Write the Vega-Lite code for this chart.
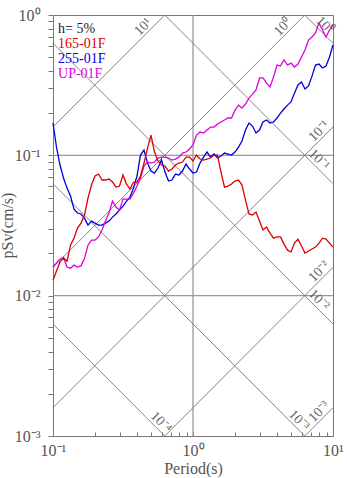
{
  "$schema": "https://vega.github.io/schema/vega-lite/v6.json",
  "width": 280,
  "height": 421,
  "autosize": "none",
  "padding": {"left": 53, "top": 15, "right": 14, "bottom": 42},
  "background": "white",
  "config": {
    "font": "Liberation Serif",
    "view": {"stroke": "#777", "strokeWidth": 1}
  },
  "title": {"text": "2025/08/18 08:34 at SMZ", "anchor": "start", "frame": "group", "fontSize": 16, "fontWeight": "normal", "color": "#222", "offset": 4, "baseline": "alphabetic"},
  "datasets": {
    "spec": [
      {"T":0.1,"r":0.0129,"b":0.1699,"m":0.0160},
      {"T":0.1059,"r":0.0150,"b":0.1146,"m":0.0171},
      {"T":0.1122,"r":0.0174,"b":0.0853,"m":0.0182},
      {"T":0.1189,"r":0.0185,"b":0.0689,"m":0.0188},
      {"T":0.1259,"r":0.0176,"b":0.0584,"m":0.0160},
      {"T":0.1334,"r":0.0229,"b":0.0513,"m":0.0157},
      {"T":0.1413,"r":0.0257,"b":0.0414,"m":0.0165},
      {"T":0.1496,"r":0.0303,"b":0.0388,"m":0.0160},
      {"T":0.1585,"r":0.0329,"b":0.0382,"m":0.0163},
      {"T":0.1679,"r":0.0375,"b":0.0357,"m":0.0185},
      {"T":0.1778,"r":0.0496,"b":0.0318,"m":0.0229},
      {"T":0.1884,"r":0.0614,"b":0.0340,"m":0.0249},
      {"T":0.1995,"r":0.0712,"b":0.0329,"m":0.0249},
      {"T":0.2113,"r":0.0736,"b":0.0318,"m":0.0262},
      {"T":0.2239,"r":0.0667,"b":0.0318,"m":0.0294},
      {"T":0.2371,"r":0.0667,"b":0.0329,"m":0.0340},
      {"T":0.2512,"r":0.0678,"b":0.0340,"m":0.0388},
      {"T":0.2661,"r":0.0645,"b":0.0363,"m":0.0472},
      {"T":0.2818,"r":0.0594,"b":0.0382,"m":0.0428},
      {"T":0.2985,"r":0.0604,"b":0.0407,"m":0.0407},
      {"T":0.3162,"r":0.0724,"b":0.0435,"m":0.0488},
      {"T":0.335,"r":0.0624,"b":0.0472,"m":0.0488},
      {"T":0.3548,"r":0.0575,"b":0.0504,"m":0.0488},
      {"T":0.3758,"r":0.0645,"b":0.0584,"m":0.0538},
      {"T":0.3981,"r":0.0645,"b":0.0712,"m":0.0604},
      {"T":0.4217,"r":0.0712,"b":0.1005,"m":0.0689},
      {"T":0.4467,"r":0.0881,"b":0.1091,"m":0.0839},
      {"T":0.4732,"r":0.1127,"b":0.0881,"m":0.0896},
      {"T":0.5012,"r":0.1395,"b":0.0773,"m":0.0881},
      {"T":0.5309,"r":0.1056,"b":0.0748,"m":0.0896},
      {"T":0.5623,"r":0.0911,"b":0.0812,"m":0.0957},
      {"T":0.5957,"r":0.0853,"b":0.0926,"m":0.0972},
      {"T":0.631,"r":0.0839,"b":0.0760,"m":0.0972},
      {"T":0.6683,"r":0.0773,"b":0.0656,"m":0.0957},
      {"T":0.7079,"r":0.0799,"b":0.0667,"m":0.0926},
      {"T":0.7499,"r":0.0853,"b":0.0736,"m":0.0941},
      {"T":0.7943,"r":0.0881,"b":0.0724,"m":0.0972},
      {"T":0.8414,"r":0.0896,"b":0.0773,"m":0.1038},
      {"T":0.8913,"r":0.0972,"b":0.0867,"m":0.1056},
      {"T":0.9441,"r":0.0972,"b":0.0799,"m":0.1109},
      {"T":1,"r":0.0911,"b":0.0748,"m":0.1184},
      {"T":1.059,"r":0.1005,"b":0.0760,"m":0.1395},
      {"T":1.122,"r":0.0941,"b":0.0881,"m":0.1466},
      {"T":1.189,"r":0.0926,"b":0.0972,"m":0.1442},
      {"T":1.259,"r":0.0941,"b":0.1056,"m":0.1515},
      {"T":1.334,"r":0.0957,"b":0.0972,"m":0.1591},
      {"T":1.413,"r":0.1005,"b":0.1022,"m":0.1591},
      {"T":1.496,"r":0.1005,"b":0.0957,"m":0.1671},
      {"T":1.585,"r":0.0760,"b":0.0989,"m":0.1727},
      {"T":1.679,"r":0.0594,"b":0.1038,"m":0.1785},
      {"T":1.778,"r":0.0604,"b":0.1022,"m":0.1845},
      {"T":1.884,"r":0.0624,"b":0.1005,"m":0.1845},
      {"T":1.995,"r":0.0656,"b":0.1056,"m":0.2100},
      {"T":2.113,"r":0.0667,"b":0.1146,"m":0.228},
      {"T":2.239,"r":0.0614,"b":0.1264,"m":0.217},
      {"T":2.371,"r":0.0480,"b":0.1515,"m":0.232},
      {"T":2.512,"r":0.0382,"b":0.1699,"m":0.256},
      {"T":2.661,"r":0.0375,"b":0.1617,"m":0.273},
      {"T":2.818,"r":0.0394,"b":0.1442,"m":0.292},
      {"T":2.985,"r":0.0340,"b":0.1515,"m":0.356},
      {"T":3.162,"r":0.0294,"b":0.1727,"m":0.356},
      {"T":3.35,"r":0.0308,"b":0.1785,"m":0.328},
      {"T":3.548,"r":0.0279,"b":0.1699,"m":0.307},
      {"T":3.758,"r":0.0257,"b":0.1727,"m":0.361},
      {"T":3.981,"r":0.0262,"b":0.1845,"m":0.440},
      {"T":4.217,"r":0.0262,"b":0.200,"m":0.433},
      {"T":4.467,"r":0.0233,"b":0.214,"m":0.478},
      {"T":4.732,"r":0.0211,"b":0.228,"m":0.440},
      {"T":5.012,"r":0.0205,"b":0.240,"m":0.455},
      {"T":5.309,"r":0.0237,"b":0.278,"m":0.426},
      {"T":5.623,"r":0.0253,"b":0.317,"m":0.447},
      {"T":5.957,"r":0.0226,"b":0.333,"m":0.502},
      {"T":6.31,"r":0.0201,"b":0.297,"m":0.563},
      {"T":6.683,"r":0.0208,"b":0.312,"m":0.663},
      {"T":7.079,"r":0.0215,"b":0.367,"m":0.697},
      {"T":7.499,"r":0.0222,"b":0.440,"m":0.744},
      {"T":7.943,"r":0.0237,"b":0.447,"m":0.877},
      {"T":8.414,"r":0.0257,"b":0.419,"m":0.782},
      {"T":8.913,"r":0.0253,"b":0.433,"m":0.697},
      {"T":9.441,"r":0.0237,"b":0.502,"m":0.782},
      {"T":10,"r":0.0222,"b":0.611,"m":0.849}
    ],
    "diag": [
      {"id":"a10","T":0.1,"v":0.15915},{"id":"a10","T":0.6283,"v":1},
      {"id":"a1","T":0.1,"v":0.015915},{"id":"a1","T":6.283,"v":1},
      {"id":"a01","T":0.1,"v":0.0015915},{"id":"a01","T":10,"v":0.15915},
      {"id":"a001","T":0.6283,"v":0.001},{"id":"a001","T":10,"v":0.015915},
      {"id":"a0001","T":6.283,"v":0.001},{"id":"a0001","T":10,"v":0.0015915},
      {"id":"d1","T":6.283,"v":1},{"id":"d1","T":10,"v":0.6283},
      {"id":"d01","T":0.6283,"v":1},{"id":"d01","T":10,"v":0.06283},
      {"id":"d001","T":0.1,"v":0.6283},{"id":"d001","T":10,"v":0.006283},
      {"id":"d0001","T":0.1,"v":0.06283},{"id":"d0001","T":6.283,"v":0.001},
      {"id":"d00001","T":0.1,"v":0.006283},{"id":"d00001","T":0.6283,"v":0.001}
    ],
    "alab": [
      {"T":0.4772,"v":0.7595,"t":"10¹"},
      {"T":4.77,"v":0.759,"t":"10⁰"},
      {"T":8.625,"v":0.1373,"t":"10⁻¹"},
      {"T":8.625,"v":0.01373,"t":"10⁻²"},
      {"T":8.625,"v":0.001373,"t":"10⁻³"}
    ],
    "dlab": [
      {"T":8.07,"v":0.7784,"t":"10⁰"},
      {"T":7.316,"v":0.0859,"t":"10⁻¹"},
      {"T":7.316,"v":0.00859,"t":"10⁻²"},
      {"T":5.265,"v":0.001193,"t":"10⁻³"},
      {"T":0.5441,"v":0.001155,"t":"10⁻⁴"}
    ],
    "leg": [
      {"T":0.1086,"v":0.744,"t":"h= 5%","ch":"k"},
      {"T":0.1086,"v":0.582,"t":"165-01F","ch":"r"},
      {"T":0.1086,"v":0.455,"t":"255-01F","ch":"b"},
      {"T":0.1086,"v":0.3584,"t":"UP-01F","ch":"m"}
    ],
    "gx": [{"T":1}],
    "gy": [{"v":0.1},{"v":0.01}]
  },
  "layer": [
    {
      "data": {"name": "gx"},
      "mark": {"type": "rule", "color": "#999", "strokeWidth": 1.3},
      "encoding": {
        "x": {"field": "T", "type": "quantitative", "scale": {"type": "log", "domain": [0.1, 10]},
          "axis": {"title": "Period(s)", "values": [0.1,0.2,0.3,0.4,0.5,0.6,0.7,0.8,0.9,1,2,3,4,5,6,7,8,9,10],
            "labelExpr": "datum.value==0.1?'10⁻¹':datum.value==1?'10⁰':datum.value==10?'10¹':''",
            "tickSize": -4, "labelPadding": 10, "grid": false, "domainColor": "#777", "tickColor": "#777",
            "labelFontSize": 16, "labelColor": "#555", "labelOverlap": false, "labelFlush": false, "labelBound": false,
            "titleFontSize": 16, "titleFontWeight": "normal", "titleColor": "#555", "titlePadding": 2}}
      }
    },
    {
      "data": {"name": "gy"},
      "mark": {"type": "rule", "color": "#999", "strokeWidth": 1.3},
      "encoding": {
        "y": {"field": "v", "type": "quantitative", "scale": {"type": "log", "domain": [0.001, 1]},
          "axis": {"title": "pSv(cm/s)", "values": [0.001,0.002,0.003,0.004,0.005,0.006,0.007,0.008,0.009,0.01,0.02,0.03,0.04,0.05,0.06,0.07,0.08,0.09,0.1,0.2,0.3,0.4,0.5,0.6,0.7,0.8,0.9,1],
            "labelExpr": "datum.value==0.001?'10⁻³':datum.value==0.01?'10⁻²':datum.value==0.1?'10⁻¹':datum.value==1?'10⁰':''",
            "tickSize": 5, "labelPadding": 8, "grid": false, "domainColor": "#777", "tickColor": "#777",
            "labelFontSize": 16, "labelColor": "#555", "labelOverlap": false, "labelFlush": false, "labelBound": false,
            "titleFontSize": 16, "titleFontWeight": "normal", "titleColor": "#555", "titleX": -38, "titleY": 210}}
      }
    },
    {
      "data": {"name": "diag"},
      "mark": {"type": "line", "color": "#777", "strokeWidth": 0.9},
      "encoding": {
        "x": {"field": "T", "type": "quantitative", "scale": {"type": "log", "domain": [0.1, 10]}},
        "y": {"field": "v", "type": "quantitative", "scale": {"type": "log", "domain": [0.001, 1]}},
        "detail": {"field": "id"}
      }
    },
    {
      "data": {"name": "spec"},
      "transform": [{"fold": ["b", "m", "r"], "as": ["ch", "v"]}],
      "mark": {"type": "line", "strokeWidth": 1.3},
      "encoding": {
        "x": {"field": "T", "type": "quantitative", "scale": {"type": "log", "domain": [0.1, 10]}},
        "y": {"field": "v", "type": "quantitative", "scale": {"type": "log", "domain": [0.001, 1]}},
        "color": {"field": "ch", "type": "nominal", "scale": {"domain": ["r", "b", "m", "k"], "range": ["#dd0000", "#0000dd", "#dd00dd", "#222222"]}, "legend": null}
      }
    },
    {
      "data": {"name": "alab"},
      "mark": {"type": "text", "angle": -45, "align": "center", "baseline": "bottom", "fontSize": 14, "color": "#666"},
      "encoding": {
        "x": {"field": "T", "type": "quantitative", "scale": {"type": "log", "domain": [0.1, 10]}},
        "y": {"field": "v", "type": "quantitative", "scale": {"type": "log", "domain": [0.001, 1]}},
        "text": {"field": "t"}
      }
    },
    {
      "data": {"name": "dlab"},
      "mark": {"type": "text", "angle": 45, "align": "center", "baseline": "bottom", "fontSize": 14, "color": "#666"},
      "encoding": {
        "x": {"field": "T", "type": "quantitative", "scale": {"type": "log", "domain": [0.1, 10]}},
        "y": {"field": "v", "type": "quantitative", "scale": {"type": "log", "domain": [0.001, 1]}},
        "text": {"field": "t"}
      }
    },
    {
      "data": {"name": "leg"},
      "mark": {"type": "text", "align": "left", "baseline": "alphabetic", "fontSize": 14},
      "encoding": {
        "x": {"field": "T", "type": "quantitative", "scale": {"type": "log", "domain": [0.1, 10]}},
        "y": {"field": "v", "type": "quantitative", "scale": {"type": "log", "domain": [0.001, 1]}},
        "text": {"field": "t"},
        "color": {"field": "ch", "type": "nominal", "scale": {"domain": ["r", "b", "m", "k"], "range": ["#dd0000", "#0000dd", "#dd00dd", "#222222"]}, "legend": null}
      }
    }
  ]
}
